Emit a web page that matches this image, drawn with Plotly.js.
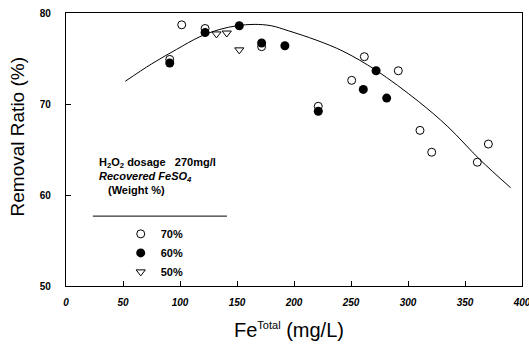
<!DOCTYPE html>
<html>
<head>
<meta charset="utf-8">
<script src="https://cdn.plot.ly/plotly-3.0.1.min.js"></script>
<style>html,body{margin:0;padding:0;background:#fff;}#chart{width:529px;height:347px;}</style>
</head>
<body>
<div id="chart"></div>
<script>
// Weight 70% recovered FeSO4 (open circles)
const fe70 = [91, 101.5, 122, 171.6, 221.3, 250.6, 261.7, 291.5, 310.5, 320.8, 360.8, 370.5];
const rr70 = [74.9, 78.7, 78.3, 76.3, 69.75, 72.6, 75.2, 73.65, 67.1, 64.7, 63.6, 65.6];
// Weight 60% (filled circles)
const fe60 = [91, 122, 152, 171.6, 192, 221.3, 260.8, 272, 281.3];
const rr60 = [74.5, 77.85, 78.6, 76.7, 76.4, 69.2, 71.6, 73.65, 70.65];
// Weight 50% (open down-triangles)
const fe50 = [132, 141, 152];
const rr50 = [77.7, 77.8, 75.95];
// Fitted curve
const feFit = [52, 75, 97, 117.5, 135, 150, 165, 180, 195, 220, 243, 272, 309, 335, 363, 390];
const rrFit = [72.5, 74.4, 76.0, 77.4, 78.2, 78.6, 78.75, 78.6, 78.05, 77.0, 75.8, 73.7, 70.3, 67.5, 63.9, 60.8];
const xTicks = [0, 50, 100, 150, 200, 250, 300, 350, 400];
const yTicks = [50, 60, 70, 80];
const seriesNames = ['70%', '60%', '50%'];

const FONT = 'Liberation Sans, Arial, Helvetica, sans-serif';

const traces = [
  {x: feFit, y: rrFit, mode: 'lines', line: {color: '#000', width: 1, shape: 'spline', smoothing: 1}, showlegend: false, hoverinfo: 'skip'},
  {x: fe70, y: rr70, mode: 'markers', name: seriesNames[0],
   marker: {symbol: 'circle-open', size: 8, color: '#000', line: {width: 1, color: '#000'}}},
  {x: fe60, y: rr60, mode: 'markers', name: seriesNames[1],
   marker: {symbol: 'circle', size: 9, color: '#000'}},
  {x: fe50, y: rr50, mode: 'markers', name: seriesNames[2],
   marker: {symbol: 'triangle-down-open', size: 8, color: '#000', line: {width: 1, color: '#000'}}}
];

const layout = {
  width: 529, height: 347,
  margin: {l: 66, r: 7, t: 13, b: 61},
  paper_bgcolor: '#fff', plot_bgcolor: '#fff',
  font: {family: FONT, color: '#000'},
  showlegend: true,
  legend: {x: 0.12, y: 0.244, xanchor: 'left', yanchor: 'top', bgcolor: 'rgba(0,0,0,0)',
           font: {family: FONT, size: 11, weight: 'bold'}, tracegroupgap: 0, itemwidth: 30},
  xaxis: {range: [0, 400], tickvals: xTicks, ticktext: xTicks.map(String), ticks: 'inside', ticklen: 5,
          tickcolor: '#000', showline: true, linecolor: '#000', linewidth: 1.2, mirror: true,
          showgrid: false, zeroline: false, ticklabeloverflow: 'allow',
          tickfont: {family: FONT, size: 10, weight: 'bold', style: 'italic'}, ticklabelstandoff: 7},
  yaxis: {range: [50, 80], tickvals: yTicks, ticktext: yTicks.map(String), ticks: 'inside', ticklen: 5,
          tickcolor: '#000', showline: true, linecolor: '#000', linewidth: 1.2, mirror: true,
          showgrid: false, zeroline: false,
          tickfont: {family: FONT, size: 10, weight: 'bold'}, ticklabelstandoff: 12},
  annotations: [
    {xref: 'paper', yref: 'paper', x: 0.489, y: -0.16, xanchor: 'center', yanchor: 'middle', showarrow: false,
     text: 'Fe<sup><span style="font-size:11px">Total</span></sup> (mg/L)', font: {family: FONT, size: 20}},
    {xref: 'paper', yref: 'paper', x: -0.107, y: 0.545, xanchor: 'center', yanchor: 'middle', showarrow: false,
     textangle: -90, text: 'Removal Ratio (%)', font: {family: FONT, size: 19}},
    {xref: 'paper', yref: 'paper', x: 0.068, y: 0.451, xanchor: 'left', yanchor: 'middle', showarrow: false,
     text: 'H<sub>2</sub>O<sub>2</sub> dosage&nbsp;&nbsp;&nbsp;270mg/l', font: {family: FONT, size: 11, weight: 'bold'}},
    {xref: 'paper', yref: 'paper', x: 0.068, y: 0.4, xanchor: 'left', yanchor: 'middle', showarrow: false,
     text: '<i>Recovered FeSO<sub>4</sub></i>', font: {family: FONT, size: 11, weight: 'bold'}},
    {xref: 'paper', yref: 'paper', x: 0.088, y: 0.35, xanchor: 'left', yanchor: 'middle', showarrow: false,
     text: '(Weight %)', font: {family: FONT, size: 11, weight: 'bold'}}
  ],
  shapes: [
    {type: 'line', xref: 'paper', yref: 'paper', x0: 0.059, x1: 0.353, y0: 0.256, y1: 0.256,
     line: {color: '#000', width: 1}}
  ]
};

Plotly.newPlot('chart', traces, layout, {staticPlot: true, displayModeBar: false});
</script>
</body>
</html>
